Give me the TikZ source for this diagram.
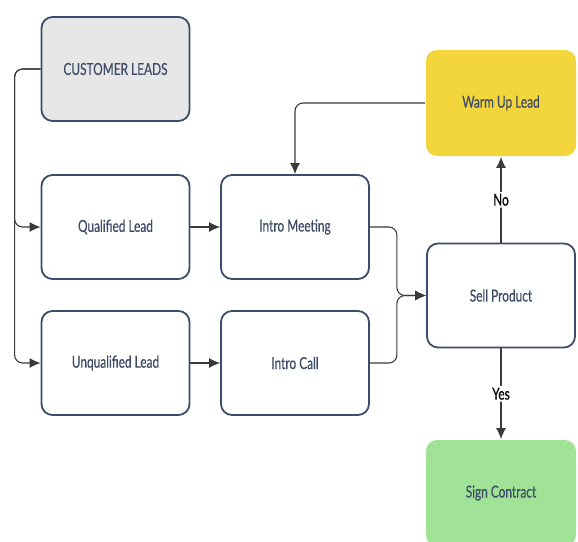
\documentclass[tikz,border=0pt]{standalone}
\usepackage{fontspec}
\setmainfont{Lato}[FakeStretch=0.72,FakeBold=0.4]
\usepackage{tikz}
\usetikzlibrary{arrows.meta,calc}

\definecolor{boxline}{HTML}{3B4D6A}
\definecolor{boxtext}{HTML}{3D4B66}
\definecolor{leadgray}{HTML}{E7E7E7}
\definecolor{warmyellow}{HTML}{F3D53C}
\definecolor{signgreen}{HTML}{A0E396}
\definecolor{wire}{HTML}{3A3A3A}

\tikzset{
  stage/.style={draw=boxline, line width=1.8pt, rounded corners=11pt, fill=white,
    minimum width=148pt, minimum height=104pt, text=boxtext,
    font=\fontsize{16.5}{19}\selectfont},
  goal/.style={stage, draw=none, minimum width=150pt, minimum height=106pt},
  wire/.style={draw=wire, line width=1.1pt, rounded corners=8pt,
    -{Latex[length=11pt,width=10pt]}},
  answer/.style={fill=white, text=black, inner sep=2pt, font=\fontsize{16.5}{19}\selectfont}
}

\begin{document}
\begin{tikzpicture}[x=1pt,y=-1pt]
\useasboundingbox (0,0) rectangle (578,541);

% left column
\node[stage, fill=leadgray] (leads) at (115.5,69) {CUSTOMER LEADS};
\node[stage] (qual) at (115.5,227) {Qualified Lead};
\node[stage] (unqual) at (115.5,363) {Unqualified Lead};

% middle column
\node[stage] (meet) at (295,227) {Intro Meeting};
\node[stage] (call) at (295,363) {Intro Call};

% right column
\node[goal, fill=warmyellow] (warm) at (501,103) {Warm Up Lead};
\node[stage] (sell) at (501,295.5) {Sell Product};
\node[goal, fill=signgreen] (sign) at (501,493) {Sign Contract};

% split the leads
\draw[wire] (leads.west) -- ++(-26,0) |- (qual.west);
\draw[wire] (leads.west) -- ++(-26,0) |- (unqual.west);
\draw[wire] (qual) -- (meet);
\draw[wire] (unqual) -- (call);

% both paths end at the sale
\draw[wire] (meet.east) -- ++(27,0) |- (sell.west);
\draw[wire] (call.east) -- ++(27,0) |- (sell.west);

% outcome of the sale
\draw[wire] (sell.north) -- node[answer] {No} (warm.south);
\draw[wire] (sell.south) -- node[answer] {Yes} (sign.north);
\draw[wire] (warm.west) -| (meet.north);
\end{tikzpicture}
\end{document}
